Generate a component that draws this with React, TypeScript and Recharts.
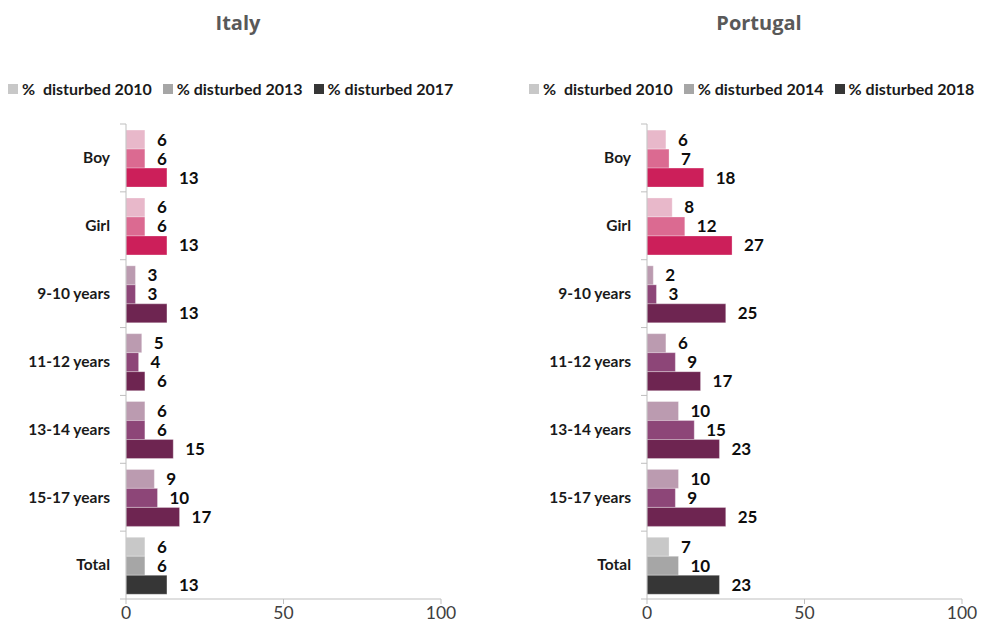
import React from 'react';
import { BarChart, Bar, XAxis, YAxis, Cell, LabelList, Legend } from 'recharts';

const categories = ['Boy', 'Girl', '9-10 years', '11-12 years', '13-14 years', '15-17 years', 'Total'];

const italy2010 = [6, 6, 3, 5, 6, 9, 6];
const italy2013 = [6, 6, 3, 4, 6, 10, 6];
const italy2017 = [13, 13, 13, 6, 15, 17, 13];

const portugal2010 = [6, 8, 2, 6, 10, 10, 7];
const portugal2014 = [7, 12, 3, 9, 15, 9, 10];
const portugal2018 = [18, 27, 25, 17, 23, 25, 23];

const italyLegend = ['%  disturbed 2010', '% disturbed 2013', '% disturbed 2017'];
const portugalLegend = ['%  disturbed 2010', '% disturbed 2014', '% disturbed 2018'];

const xTicks = [0, 50, 100];

const lightShades = ['#E8B8CA', '#E8B8CA', '#BB9BB0', '#BB9BB0', '#BB9BB0', '#BB9BB0', '#C8C8C8'];
const midShades = ['#DB6A91', '#DB6A91', '#8D4678', '#8D4678', '#8D4678', '#8D4678', '#A6A6A6'];
const darkShades = ['#CC1F5A', '#CC1F5A', '#6E2551', '#6E2551', '#6E2551', '#6E2551', '#363636'];
const legendSwatches = ['#C8C8C8', '#A6A6A6', '#363636'];

const CHART_W = 473;
const CHART_H = 633;
const MARGIN = { top: 78, right: 32, bottom: 3, left: 10 };
const LEGEND_H = 46;
const XAXIS_H = 31;
const PLOT_H = CHART_H - MARGIN.top - LEGEND_H - MARGIN.bottom - XAXIS_H;
const TICK_MARGIN = 16;
const FONT = 'Lato, "Open Sans", sans-serif';
const AXIS_COLOR = '#BFBFBF';

function buildRows(a: number[], b: number[], c: number[]) {
  return categories.map((category, i) => ({ category, v1: a[i], v2: b[i], v3: c[i] }));
}

const LegendContent = ({ names }: { names: string[] }) => (
  <div
    style={{
      display: 'flex',
      alignItems: 'center',
      paddingLeft: 8,
      paddingTop: 1,
      fontFamily: FONT,
      fontWeight: 700,
      fontSize: 16,
      color: '#1a1a1a',
      whiteSpace: 'pre',
    }}
  >
    {names.map((n, i) => (
      <div key={n + i} style={{ display: 'flex', alignItems: 'center', marginRight: 11 }}>
        <span style={{ display: 'inline-block', width: 10, height: 10, background: legendSwatches[i], marginRight: 4 }} />
        <span>{n}</span>
      </div>
    ))}
  </div>
);

const CategoryTick = (props: any) => {
  const { x, y, payload, index } = props;
  const half = PLOT_H / categories.length / 2;
  const axisX = x + TICK_MARGIN;
  return (
    <g>
      <line x1={axisX - 6} x2={axisX} y1={y - half} y2={y - half} stroke={AXIS_COLOR} />
      {index === categories.length - 1 && (
        <line x1={axisX - 6} x2={axisX} y1={y + half} y2={y + half} stroke={AXIS_COLOR} />
      )}
      <text
        x={x}
        y={y}
        dy="0.35em"
        textAnchor="end"
        style={{ fontFamily: FONT, fontWeight: 700, fontSize: 15.5, fill: '#1a1a1a' }}
      >
        {payload.value}
      </text>
    </g>
  );
};

const labelStyle = { fontFamily: FONT, fontWeight: 700, fontSize: 17, fill: '#0d0d0d' };

function Panel({ title, rows, names, left }: { title: string; rows: any[]; names: string[]; left: number }) {
  const shades = [lightShades, midShades, darkShades];
  return (
    <div style={{ position: 'absolute', left, top: 0, width: CHART_W, height: CHART_H }}>
      <div
        style={{
          position: 'absolute',
          left: 138,
          width: 200,
          top: 9,
          textAlign: 'center',
          fontFamily: '"Open Sans", "DejaVu Sans", sans-serif',
          fontWeight: 700,
          fontSize: 20,
          color: '#595959',
          zIndex: 2,
        }}
      >
        {title}
      </div>
      <BarChart
        width={CHART_W}
        height={CHART_H}
        data={rows}
        layout="vertical"
        margin={MARGIN}
        barCategoryGap="9%"
        barGap={0}
      >
        <Legend
          verticalAlign="top"
          height={LEGEND_H}
          wrapperStyle={{ left: 0, top: MARGIN.top, width: CHART_W, height: LEGEND_H }}
          content={() => <LegendContent names={names} />}
        />
        <XAxis
          type="number"
          domain={[0, 100]}
          ticks={xTicks}
          height={XAXIS_H}
          axisLine={{ stroke: AXIS_COLOR }}
          tickLine={{ stroke: AXIS_COLOR }}
          tickSize={5}
          tickMargin={3}
          tick={{ fontFamily: FONT, fontSize: 17.5, fill: '#404040' }}
        />
        <YAxis
          type="category"
          dataKey="category"
          width={116}
          axisLine={{ stroke: AXIS_COLOR }}
          tickLine={false}
          tickSize={0}
          tickMargin={TICK_MARGIN}
          tick={<CategoryTick />}
        />
        {(['v1', 'v2', 'v3'] as const).map((key, si) => (
          <Bar key={key} dataKey={key} isAnimationActive={false} stroke="#ffffff" strokeOpacity={0.5} strokeWidth={0.6}>
            {rows.map((r, i) => (
              <Cell key={r.category} fill={shades[si][i]} />
            ))}
            <LabelList dataKey={key} position="right" offset={12} style={labelStyle} />
          </Bar>
        ))}
      </BarChart>
    </div>
  );
}

export default function App() {
  const italyRows = buildRows(italy2010, italy2013, italy2017);
  const portugalRows = buildRows(portugal2010, portugal2014, portugal2018);
  return (
    <div style={{ position: 'relative', width: 994, height: 633, margin: -8, background: '#ffffff' }}>
      <Panel title="Italy" rows={italyRows} names={italyLegend} left={0} />
      <Panel title="Portugal" rows={portugalRows} names={portugalLegend} left={521} />
    </div>
  );
}
